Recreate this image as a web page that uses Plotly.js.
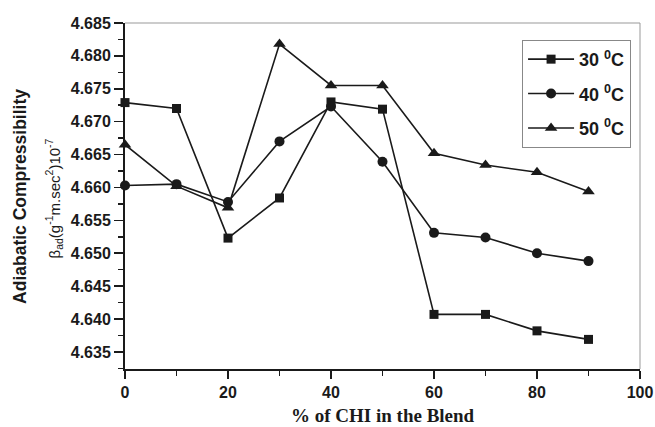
<!DOCTYPE html>
<html>
<head>
<meta charset="utf-8">
<script src="https://cdn.plot.ly/plotly-3.0.1.min.js"></script>
<style>html,body{margin:0;padding:0;background:#fff;}#chart{width:655px;height:427px;}</style>
</head>
<body>
<div id="chart"></div>
<script>
const xPercent = [0, 10, 20, 30, 40, 50, 60, 70, 80, 90];
const beta30 = [4.6729, 4.6720, 4.6523, 4.6584, 4.6730, 4.6719, 4.6407, 4.6407, 4.6382, 4.6369];
const beta40 = [4.6603, 4.6605, 4.6578, 4.6670, 4.6723, 4.6639, 4.6531, 4.6524, 4.6500, 4.6488];
const beta50 = [4.6665, 4.6602, 4.6569, 4.6818, 4.6755, 4.6755, 4.6652, 4.6634, 4.6623, 4.6594];
const seriesNames = ['30 <sup>0</sup>C', '40 <sup>0</sup>C', '50 <sup>0</sup>C'];
const xTitle = '% of CHI in the Blend';
const yTitle1 = 'Adiabatic Compressibility';
const yTitle2 = 'β<sub>ad</sub>(g<sup>-1</sup>m.sec<sup>2</sup>)10<sup>-7</sup>';

const ink = '#1a1a1a';
function mk(y, name, symbol, size) {
  return {
    x: xPercent, y: y, name: name, type: 'scatter', mode: 'lines+markers',
    legendgroup: name,
    line: {color: ink, width: 1.6},
    marker: {symbol: symbol, size: size, color: ink},
    cliponaxis: false
  };
}
const data = [
  mk(beta30, seriesNames[0], 'square', 9),
  mk(beta40, seriesNames[1], 'circle', 10),
  mk(beta50, seriesNames[2], 'triangle-up', 11)
];
const sans = 'Liberation Sans, Arial, sans-serif';
const layout = {
  width: 655, height: 427,
  margin: {l: 125, r: 15, t: 23, b: 58},
  paper_bgcolor: '#fff', plot_bgcolor: '#fff',
  showlegend: true,
  legend: {
    x: 0.771, y: 0.951, xanchor: 'left', yanchor: 'top',
    bgcolor: '#fff', bordercolor: '#888', borderwidth: 1,
    font: {family: sans, size: 18, color: ink, weight: 'bold'},
    tracegroupgap: 8, itemwidth: 46
  },
  xaxis: {
    range: [0, 100], dtick: 20, tick0: 0, ticks: 'outside', ticklen: 8, tickwidth: 1.5, tickcolor: ink,
    showline: true, linecolor: ink, linewidth: 2, showgrid: false, zeroline: false,
    tickfont: {family: sans, size: 16, color: ink, weight: 'bold'},
    minor: {dtick: 10, ticks: 'outside', ticklen: 5, tickwidth: 1.5, tickcolor: ink, showgrid: false}
  },
  yaxis: {
    range: [4.6324, 4.685], dtick: 0.005, tick0: 4.635, tickformat: '.3f', ticks: 'outside', ticklen: 9, tickwidth: 1.5, tickcolor: ink,
    showline: true, linecolor: ink, linewidth: 2, showgrid: false, zeroline: false,
    tickfont: {family: sans, size: 16, color: ink, weight: 'bold'},
    minor: {dtick: 0.0025, ticks: 'outside', ticklen: 5, tickwidth: 1.5, tickcolor: ink, showgrid: false}
  },
  shapes: [
    {type: 'line', xref: 'paper', yref: 'paper', x0: 0, x1: 1, y0: 1, y1: 1, line: {color: '#999', width: 1}},
    {type: 'line', xref: 'paper', yref: 'paper', x0: 1, x1: 1, y0: 0, y1: 1, line: {color: '#999', width: 1}}
  ],
  annotations: [
    {text: yTitle1, xref: 'paper', yref: 'paper', x: -0.204, y: 0.5, xanchor: 'center', yanchor: 'middle',
     textangle: -90, showarrow: false, font: {family: sans, size: 17.5, color: ink, weight: 'bold'}},
    {text: yTitle2, xref: 'paper', yref: 'paper', x: -0.139, y: 0.494, xanchor: 'center', yanchor: 'middle',
     textangle: -90, showarrow: false, font: {family: sans, size: 15, color: ink}},
    {text: xTitle, xref: 'paper', yref: 'paper', x: 0.5, y: -0.133, xanchor: 'center', yanchor: 'middle',
     showarrow: false, font: {family: 'Liberation Serif, Times New Roman, serif', size: 19, color: ink, weight: 'bold'}}
  ]
};
Plotly.newPlot('chart', data, layout, {displayModeBar: false, staticPlot: true});
</script>
</body>
</html>
